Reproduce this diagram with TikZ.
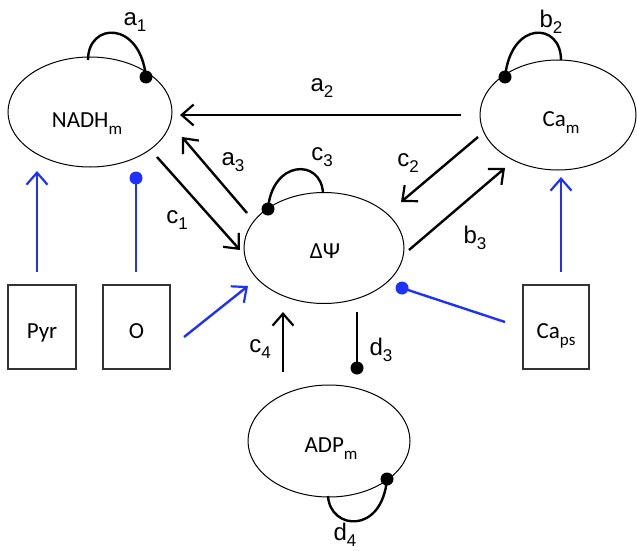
\documentclass[tikz,border=0pt]{standalone}
\usepackage{fontspec}
\setmainfont{Carlito}
\newfontfamily\labfont{Liberation Sans}
\usetikzlibrary{shapes.geometric,arrows.meta}
\definecolor{inblue}{RGB}{30,50,250}
\newcommand{\lsub}[1]{\raisebox{-7pt}{\fontsize{17}{17}\selectfont #1}}
\newcommand{\esub}[1]{\raisebox{-6pt}{\fontsize{17}{17}\selectfont #1}}
\begin{document}
\begin{tikzpicture}[x=1pt,y=-1pt,
  every node/.style={font=\fontsize{23}{23}\selectfont},
  species/.style={ellipse,draw,line width=1pt,inner sep=0pt},
  spname/.style={inner sep=0pt,anchor=base},
  srcbox/.style={rectangle,draw=black!80,line width=1.2pt,inner sep=0pt,minimum height=84pt},
  conn/.style={line width=2.4pt},
  arr/.style={conn,-{Straight Barb[length=12pt,width=21pt,line width=2.2pt]}},
  barr/.style={arr,inblue},
  bconn/.style={conn,inblue},
  dot/.style={circle,fill=black,inner sep=0pt,minimum size=13pt},
  bdot/.style={dot,fill=inblue},
  lab/.style={inner sep=0pt,font=\labfont\fontsize{24}{24}\selectfont}]
\useasboundingbox (0,0) rectangle (637,551);
% species
\node[species,minimum width=164pt,minimum height=110pt] (nadh) at (90,112) {};
\node[species,minimum width=156pt,minimum height=110pt] (cam) at (558,115) {};
\node[species,minimum width=160pt,minimum height=111pt] (psi) at (324,248) {};
\node[species,minimum width=162pt,minimum height=112pt] (adp) at (329,441) {};
\node[spname] (nadht) at (87,127) {NADH\lsub{m}};
\node[spname] (camt) at (561,126) {Ca\lsub{m}};
\node[spname] (psit) at (325,258) {ΔΨ};
\node[spname] (adpt) at (331,452) {ADP\lsub{m}};
% boxes
\node[srcbox,minimum width=68pt] (pyr) at (42,327) {};
\node[srcbox,minimum width=67pt] (ox) at (136.5,327) {};
\node[srcbox,minimum width=66pt] (caps) at (556,327) {};
\node[spname] (pyrt) at (42,338) {Pyr};
\node[spname] (oxt) at (136.5,338) {O};
\node[spname] (capst) at (556,338) {Ca\lsub{ps}};
% dots
\node[dot] (a1dot) at (146,77) {};
\node[dot] (b2dot) at (505,77) {};
\node[dot] (c3dot) at (268,209) {};
\node[dot] (d4dot) at (387,479) {};
\node[dot] (d3dot) at (357,368) {};
\node[bdot] (odot) at (136,178) {};
\node[bdot] (capsdot) at (402,288) {};
% coordinates
\coordinate (a1s) at (88,60);
\coordinate (b2s) at (561,60);
\coordinate (c3s) at (323,193);
\coordinate (d4s) at (328,496);
\coordinate (a2s) at (461,115); \coordinate (a2e) at (180,115);
\coordinate (a3s) at (247,213); \coordinate (a3e) at (182,137);
\coordinate (c1s) at (157,157); \coordinate (c1e) at (240,250);
\coordinate (c2s) at (478,137); \coordinate (c2e) at (401,202);
\coordinate (b3s) at (409,250); \coordinate (b3e) at (505,168);
\coordinate (c4s) at (283,372); \coordinate (c4e) at (283,312);
\coordinate (d3s) at (357,312);
\coordinate (pyrs) at (37,272); \coordinate (pyre) at (37,171);
\coordinate (oxs) at (136,272);
\coordinate (oxps) at (184,337); \coordinate (oxpe) at (248,286);
\coordinate (capss) at (505,322);
\coordinate (capcs) at (561,272); \coordinate (capce) at (561,177);
% self loops
\draw[conn] (a1s) .. controls (88,22) and (140,20) .. (a1dot.center);
\draw[conn] (b2dot.center) .. controls (511,20) and (561,22) .. (b2s);
\draw[conn] (c3dot.center) .. controls (272,160) and (321,158) .. (c3s);
\draw[conn] (d4dot.center) .. controls (382,535) and (330,530) .. (d4s);
% black connectors
\draw[arr] (a2s) -- (a2e);
\draw[arr] (a3s) -- (a3e);
\draw[arr] (c1s) -- (c1e);
\draw[arr] (c2s) -- (c2e);
\draw[arr] (b3s) -- (b3e);
\draw[arr] (c4s) -- (c4e);
\draw[conn] (d3s) -- (d3dot.center);
% blue connectors
\draw[barr] (pyrs) -- (pyre);
\draw[bconn] (oxs) -- (odot.center);
\draw[barr] (oxps) -- (oxpe);
\draw[bconn] (capss) -- (capsdot.center);
\draw[barr] (capcs) -- (capce);
% labels
\node[lab] (la1) at (135,22) {a\esub{1}};
\node[lab] (lb2) at (551,22) {b\esub{2}};
\node[lab] (la2) at (322,88) {a\esub{2}};
\node[lab] (la3) at (233,162) {a\esub{3}};
\node[lab] (lc3) at (322,157) {c\esub{3}};
\node[lab] (lc2) at (408,163) {c\esub{2}};
\node[lab] (lc1) at (177,220) {c\esub{1}};
\node[lab] (lb3) at (475,238) {b\esub{3}};
\node[lab] (lc4) at (260,349) {c\esub{4}};
\node[lab] (ld3) at (381,350) {d\esub{3}};
\node[lab] (ld4) at (345,535) {d\esub{4}};
\end{tikzpicture}
\end{document}
